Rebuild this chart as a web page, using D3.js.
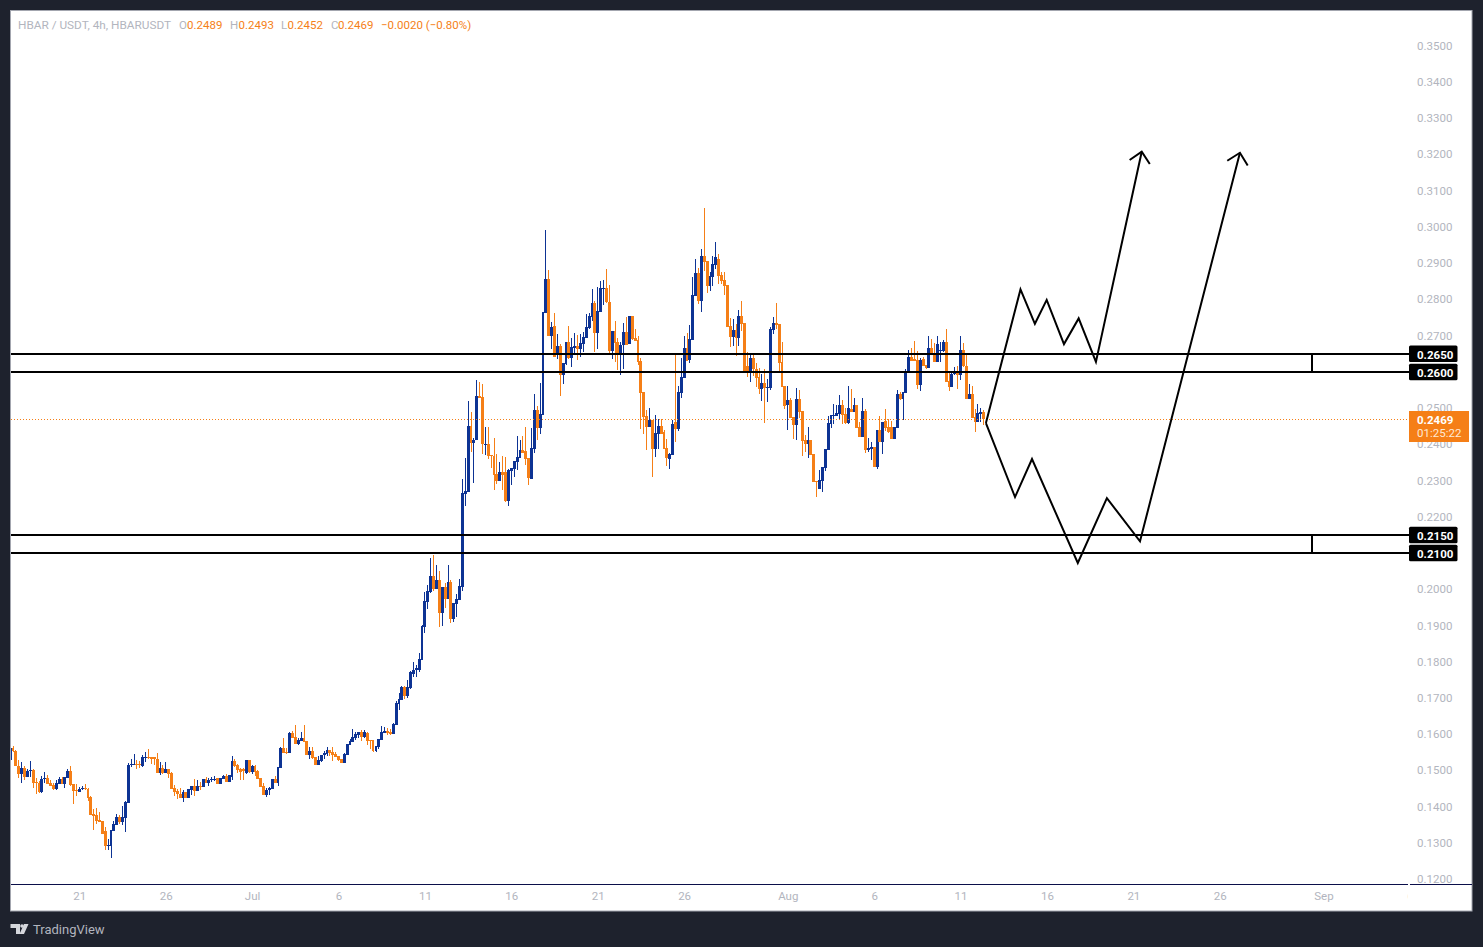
<!DOCTYPE html>
<html>
<head>
<meta charset="utf-8">
<title>HBAR / USDT</title>
<script src="https://cdn.jsdelivr.net/npm/d3@7"></script>
<style>
  html, body { margin: 0; padding: 0; background: #1e222d; }
  svg { display: block; }
  text { font-family: Roboto, "Liberation Sans", sans-serif; }
</style>
</head>
<body>
<div id="chart"></div>
<script>
// 4h candles from 17 Jun 2025, values in ticks of 0.0001
var tick = 0.0001;
var opens = [
1528,1561,1553,1513,1490,1506,1481,1497,1501,1467,
1465,1440,1476,1479,1464,1459,1448,1462,1476,1462,
1480,1498,1462,1445,1440,1448,1451,1448,1426,1378,
1377,1363,1360,1332,1292,1291,1332,1349,1371,1357,
1368,1411,1515,1516,1517,1517,1512,1535,1537,1536,
1536,1531,1493,1506,1493,1504,1493,1451,1443,1435,
1424,1440,1424,1446,1457,1443,1458,1454,1476,1466,
1473,1473,1479,1462,1477,1484,1468,1481,1526,1515,
1504,1503,1493,1528,1495,1512,1498,1479,1457,1432,
1446,1448,1476,1465,1506,1562,1550,1548,1603,1592,
1573,1581,1589,1581,1542,1553,1537,1515,1526,1542,
1545,1556,1550,1545,1539,1531,1520,1542,1570,1578,
1589,1597,1606,1592,1603,1584,1584,1553,1564,1584,
1604,1608,1606,1600,1625,1683,1694,1730,1705,1727,
1766,1778,1778,1804,1895,1964,1992,2036,2000,2025,
1934,2006,1973,2019,1917,1959,1970,2006,2262,2268,
2450,2403,2411,2533,2530,2398,2400,2370,2367,2318,
2298,2323,2323,2243,2326,2331,2351,2362,2384,2381,
2362,2304,2387,2494,2445,2480,2762,2856,2698,2725,
2646,2671,2591,2621,2682,2638,2665,2671,2662,2676,
2693,2720,2751,2789,2707,2765,2830,2831,2792,2657,
2712,2682,2646,2673,2709,2676,2754,2693,2687,2629,
2544,2477,2447,2467,2386,2428,2450,2433,2389,2359,
2370,2461,2442,2541,2582,2665,2632,2687,2809,2872,
2795,2919,2905,2836,2861,2894,2911,2867,2853,2839,
2726,2696,2715,2693,2754,2734,2616,2596,2638,2607,
2585,2552,2569,2555,2555,2715,2734,2731,2627,2560,
2508,2522,2475,2453,2524,2491,2411,2400,2411,2373,
2298,2276,2298,2334,2384,2455,2478,2478,2483,2508,
2483,2458,2497,2489,2508,2447,2420,2491,2384,2386,
2392,2337,2439,2406,2464,2447,2446,2414,2444,2538,
2524,2541,2596,2640,2635,2632,2563,2635,2618,2610,
2665,2651,2627,2657,2657,2682,2574,2558,2593,2599,
2591,2660,2616,2524,2538,2474,2461,2483,2489];
var closes = [
1561,1552,1513,1490,1506,1481,1498,1500,1465,1464,
1440,1476,1478,1462,1457,1448,1465,1476,1462,1481,
1498,1459,1443,1444,1448,1451,1447,1424,1377,1375,
1360,1357,1324,1291,1294,1335,1352,1371,1357,1371,
1412,1515,1517,1517,1516,1516,1537,1537,1533,1531,
1530,1493,1506,1493,1504,1490,1448,1440,1435,1424,
1440,1424,1448,1457,1443,1457,1455,1476,1466,1473,
1475,1476,1462,1479,1484,1468,1487,1526,1512,1501,
1495,1498,1528,1495,1512,1495,1476,1454,1432,1446,
1451,1476,1465,1509,1562,1548,1548,1603,1589,1573,
1584,1589,1578,1542,1553,1534,1515,1528,1542,1548,
1556,1548,1542,1537,1528,1520,1545,1573,1581,1592,
1600,1606,1592,1605,1581,1581,1553,1567,1586,1606,
1608,1602,1600,1628,1686,1696,1730,1705,1730,1771,
1777,1781,1807,1898,1967,1995,2036,2000,2025,1934,
2006,1973,2019,1917,1962,1973,2008,2265,2271,2450,
2403,2411,2533,2527,2400,2400,2367,2367,2315,2298,
2323,2315,2243,2329,2334,2353,2364,2384,2376,2359,
2307,2389,2494,2445,2483,2764,2856,2698,2723,2640,
2671,2591,2624,2682,2638,2668,2671,2662,2679,2696,
2723,2754,2789,2707,2767,2831,2832,2792,2657,2712,
2679,2646,2673,2709,2673,2754,2690,2684,2627,2541,
2475,2447,2467,2386,2431,2450,2428,2386,2362,2373,
2455,2442,2544,2585,2665,2629,2690,2811,2872,2795,
2919,2903,2836,2864,2897,2916,2864,2850,2836,2723,
2696,2715,2693,2754,2731,2599,2596,2638,2607,2582,
2552,2569,2555,2558,2718,2734,2729,2624,2558,2505,
2522,2472,2453,2524,2489,2408,2400,2411,2370,2295,
2295,2301,2337,2386,2458,2480,2480,2486,2508,2480,
2458,2500,2489,2508,2444,2420,2491,2384,2389,2392,
2337,2439,2406,2461,2444,2433,2414,2447,2538,2524,
2544,2599,2640,2629,2629,2563,2632,2616,2610,2665,
2649,2627,2676,2660,2682,2571,2558,2593,2596,2591,
2660,2616,2524,2538,2472,2461,2486,2489,2469];
var highs = [
1570,1567,1556,1528,1523,1512,1504,1526,1503,1479,
1470,1484,1495,1487,1473,1464,1473,1481,1481,1481,
1504,1512,1462,1462,1454,1457,1462,1451,1429,1393,
1396,1385,1360,1343,1310,1335,1360,1379,1377,1401,
1415,1520,1531,1545,1528,1526,1542,1550,1559,1537,
1537,1548,1523,1515,1523,1504,1495,1459,1448,1451,
1446,1440,1448,1457,1476,1473,1468,1476,1481,1479,
1481,1484,1479,1479,1487,1490,1487,1539,1531,1517,
1506,1505,1528,1528,1515,1515,1501,1479,1465,1451,
1454,1476,1484,1509,1564,1589,1562,1606,1608,1625,
1589,1606,1625,1581,1564,1564,1537,1539,1542,1553,
1564,1556,1564,1550,1539,1531,1548,1573,1586,1614,
1606,1606,1611,1610,1606,1584,1584,1567,1586,1622,
1619,1617,1614,1631,1691,1714,1732,1732,1749,1774,
1799,1790,1824,1901,1992,2011,2086,2094,2066,2050,
2006,2017,2066,2025,1962,1986,2028,2304,2362,2519,
2489,2417,2577,2571,2566,2447,2447,2370,2417,2373,
2351,2367,2364,2331,2334,2353,2422,2411,2422,2447,
2362,2445,2538,2505,2569,2764,2991,2880,2737,2762,
2704,2676,2624,2682,2726,2693,2707,2701,2704,2709,
2759,2762,2828,2795,2834,2850,2853,2883,2839,2712,
2740,2693,2682,2734,2751,2754,2754,2718,2698,2638,
2544,2494,2500,2467,2480,2469,2469,2439,2414,2375,
2467,2649,2560,2638,2698,2707,2729,2861,2911,2886,
2938,3052,2905,2875,2919,2958,2925,2875,2875,2839,
2748,2745,2731,2770,2795,2734,2654,2651,2651,2624,
2610,2594,2607,2580,2723,2751,2789,2731,2682,2560,
2560,2527,2475,2555,2549,2491,2425,2447,2411,2373,
2298,2328,2337,2386,2478,2480,2511,2508,2535,2522,
2500,2560,2552,2527,2508,2461,2527,2497,2417,2406,
2392,2439,2478,2461,2497,2469,2464,2447,2549,2544,
2544,2607,2660,2665,2685,2657,2638,2640,2618,2698,
2690,2679,2698,2682,2687,2718,2602,2602,2613,2616,
2698,2679,2649,2566,2560,2497,2511,2500,2493];
var lows = [
1499,1550,1513,1479,1465,1473,1481,1481,1451,1435,
1437,1437,1465,1462,1456,1446,1446,1462,1462,1451,
1480,1457,1407,1429,1440,1446,1446,1415,1377,1335,
1352,1357,1324,1280,1280,1258,1332,1349,1352,1349,
1330,1411,1509,1515,1504,1506,1509,1523,1530,1517,
1515,1493,1487,1490,1493,1479,1448,1429,1421,1424,
1412,1424,1424,1432,1429,1443,1446,1454,1465,1457,
1468,1470,1462,1462,1476,1468,1468,1473,1509,1493,
1473,1474,1490,1493,1490,1484,1476,1454,1432,1426,
1432,1448,1465,1457,1506,1548,1545,1548,1589,1573,
1570,1581,1578,1542,1531,1531,1515,1515,1523,1531,
1539,1539,1526,1537,1526,1520,1520,1542,1570,1578,
1584,1589,1581,1590,1570,1559,1550,1550,1559,1584,
1603,1597,1597,1600,1625,1666,1694,1697,1699,1724,
1757,1757,1771,1804,1879,1945,1989,1995,2000,1895,
1898,1948,1973,1906,1909,1923,1970,1995,2229,2268,
2378,2293,2411,2527,2373,2370,2359,2334,2273,2290,
2298,2273,2240,2229,2287,2309,2329,2362,2376,2342,
2287,2304,2376,2411,2428,2480,2762,2698,2662,2640,
2635,2533,2566,2618,2635,2613,2651,2632,2640,2654,
2693,2718,2740,2654,2662,2765,2784,2789,2649,2635,
2627,2604,2591,2607,2673,2676,2687,2684,2618,2442,
2428,2384,2447,2309,2364,2386,2428,2386,2339,2331,
2370,2406,2436,2527,2582,2629,2624,2687,2809,2787,
2765,2878,2817,2822,2836,2883,2842,2842,2811,2723,
2668,2671,2643,2671,2712,2599,2585,2571,2588,2558,
2538,2519,2458,2516,2549,2704,2718,2599,2558,2497,
2439,2472,2414,2411,2472,2367,2378,2362,2370,2295,
2254,2276,2268,2326,2384,2444,2455,2478,2466,2455,
2455,2455,2489,2489,2444,2420,2420,2375,2378,2356,
2337,2331,2406,2373,2436,2431,2414,2414,2444,2521,
2467,2541,2596,2629,2629,2552,2547,2616,2607,2610,
2649,2627,2627,2627,2654,2571,2547,2558,2591,2552,
2577,2613,2524,2524,2472,2433,2461,2461,2452];

var priceTicks = [0.35,0.34,0.33,0.32,0.31,0.30,0.29,0.28,0.27,0.26,0.25,0.24,0.23,0.22,0.21,0.20,0.19,0.18,0.17,0.16,0.15,0.14,0.13,0.12];
var dateTicks = ["2025-06-21","2025-06-26","2025-07-01","2025-07-06","2025-07-11","2025-07-16","2025-07-21","2025-07-26","2025-08-01","2025-08-06","2025-08-11","2025-08-16","2025-08-21","2025-08-26","2025-09-01","2025-09-06"];
var dateLabels = ["21","26","Jul","6","11","16","21","26","Aug","6","11","16","21","26","Sep","6"];

// drawn levels
var levels = [0.265, 0.26, 0.215, 0.21];
var lastPrice = 0.2469;

// projected paths: bar number after the first candle, and price
var upPathBars = [338.8,350.8,355.8,359.9,365.9,371,377,392.9];
var upPathPrices = [0.2458,0.2827,0.2732,0.2798,0.2676,0.2747,0.2627,0.3207];
var upHeadBars = [388.7,392.9,395.7];
var upHeadPrices = [0.3184,0.3207,0.3173];
var downPathBars = [338.8,348.9,354.8,370.7,380.8,392.3,427];
var downPathPrices = [0.2458,0.2254,0.2359,0.2072,0.2251,0.2132,0.3204];
var downHeadBars = [422.6,427,429.7];
var downHeadPrices = [0.3182,0.3204,0.3169];

var w = 1483, h = 947;
var blue = "#0d3394", orange = "#f57f17", tagGray = "#b2b5be";

var svg = d3.select("#chart").append("svg").attr("width", w).attr("height", h);

// panel
svg.append("rect").attr("x", 10.5).attr("y", 10.5).attr("width", 1461.5).attr("height", 900.5)
    .attr("fill", "#fff").attr("stroke", "#a3a6af").attr("stroke-width", 1);

svg.append("clipPath").attr("id", "plot").append("rect").attr("x", 11).attr("y", 11).attr("width", 1398).attr("height", 873);
svg.append("clipPath").attr("id", "timeaxis").append("rect").attr("x", 11).attr("y", 885).attr("width", 1397).attr("height", 26);

var x = d3.scaleUtc()
    .domain([Date.UTC(2025, 5, 21), Date.UTC(2025, 8, 1)])
    .range([79.3, 1323.46]);
var y = d3.scaleLinear().domain([0.12, 0.35]).range([879, 45.5]);

var firstBar = Date.UTC(2025, 5, 17), barMs = 4 * 3600 * 1000;
function barX(n) { return x(new Date(firstBar + n * barMs)); }

// price axis
var yAxis = d3.axisRight(y).tickValues(priceTicks).tickFormat(d3.format(".4f")).tickSize(0).tickPadding(0);
var yg = svg.append("g").attr("transform", "translate(1417,0)").call(yAxis);
yg.select(".domain").remove();
yg.selectAll("text").attr("font-size", 11.5).attr("fill", tagGray).style("font-family", "Roboto");

// time axis, the last label is cut off by the price scale
var xAxis = d3.axisBottom(x)
    .tickValues(dateTicks.map(function(d) { return new Date(d + "T00:00:00Z"); }))
    .tickFormat(function(d, i) { return dateLabels[i]; })
    .tickSize(0).tickPadding(0);
var xg = svg.append("g").attr("clip-path", "url(#timeaxis)")
    .append("g").attr("transform", "translate(0,892)").call(xAxis);
xg.select(".domain").remove();
xg.selectAll("text").attr("font-size", 11.5).attr("fill", tagGray).style("font-family", "Roboto");

// bottom rule, broken at the price scale
svg.append("line").attr("x1", 11).attr("x2", 1408).attr("y1", 884.5).attr("y2", 884.5).attr("stroke", "#0b0f4a");
svg.append("line").attr("x1", 1410).attr("x2", 1472).attr("y1", 884.5).attr("y2", 884.5).attr("stroke", "#0b0f4a");

// candles
var candles = closes.map(function(c, i) {
    return { n: i, o: opens[i] * tick, h: highs[i] * tick, l: lows[i] * tick, c: c * tick };
});
function bodyLeft(d) { return Math.round(barX(d.n) - 1.44); }
function bodyWidth(d) { return Math.round(barX(d.n) + 1.44) - bodyLeft(d); }
var plot = svg.append("g").attr("clip-path", "url(#plot)").attr("shape-rendering", "crispEdges");
plot.selectAll("rect.wick").data(candles).enter().append("rect")
    .attr("class", "wick")
    .attr("x", function(d) { return bodyLeft(d) + Math.floor(bodyWidth(d) / 2); })
    .attr("width", 1)
    .attr("y", function(d) { return Math.round(y(d.h)); })
    .attr("height", function(d) { return Math.max(1, Math.round(y(d.l)) - Math.round(y(d.h))); })
    .attr("fill", function(d) { return d.c >= d.o ? blue : orange; });
plot.selectAll("rect.body").data(candles).enter().append("rect")
    .attr("class", "body")
    .attr("x", bodyLeft)
    .attr("width", bodyWidth)
    .attr("y", function(d) { return Math.round(y(Math.max(d.o, d.c))); })
    .attr("height", function(d) { return Math.max(1, Math.round(y(Math.min(d.o, d.c))) - Math.round(y(Math.max(d.o, d.c)))); })
    .attr("fill", function(d) { return d.c >= d.o ? blue : orange; });

// last price dotted line
svg.append("line").attr("x1", 11).attr("x2", 1409).attr("y1", Math.round(y(lastPrice)) + 0.5).attr("y2", Math.round(y(lastPrice)) + 0.5)
    .attr("stroke", orange).attr("stroke-dasharray", "1 2");

// levels and the two range brackets
var levelG = svg.append("g");
levelG.selectAll("line").data(levels).enter().append("line")
    .attr("x1", 11).attr("x2", 1409)
    .attr("y1", function(d) { return Math.round(y(d)); })
    .attr("y2", function(d) { return Math.round(y(d)); })
    .attr("stroke", "#000").attr("stroke-width", 2);
[[levels[0], levels[1]], [levels[2], levels[3]]].forEach(function(p) {
    levelG.append("line").attr("x1", 1312).attr("x2", 1312)
        .attr("y1", Math.round(y(p[0]))).attr("y2", Math.round(y(p[1])))
        .attr("stroke", "#000").attr("stroke-width", 2);
});

var tags = svg.selectAll("g.tag").data(levels).enter().append("g").attr("class", "tag");
tags.append("rect").attr("x", 1409).attr("width", 48.5).attr("height", 16.5).attr("rx", 1.5)
    .attr("y", function(d) { return y(d) - 8; }).attr("fill", "#000");
tags.append("text").attr("x", 1417).attr("y", function(d) { return y(d) + 5; })
    .attr("font-size", 11.5).attr("font-weight", 700).attr("fill", "#fff")
    .text(function(d) { return d3.format(".4f")(d); });

// last price tag
svg.append("rect").attr("x", 1409).attr("y", 411).attr("width", 60).attr("height", 31).attr("fill", orange);
svg.append("text").attr("x", 1417).attr("y", 424).attr("font-size", 11.5).attr("font-weight", 700).attr("fill", "#fff").text(d3.format(".4f")(lastPrice));
svg.append("text").attr("x", 1417).attr("y", 437).attr("font-size", 11.5).attr("fill", "#ffe9d4").text("01:25:22");

// projected paths
var pathLine = d3.line().x(function(d) { return barX(d[0]); }).y(function(d) { return y(d[1]); });
[[upPathBars, upPathPrices], [upHeadBars, upHeadPrices], [downPathBars, downPathPrices], [downHeadBars, downHeadPrices]].forEach(function(s) {
    svg.append("path").attr("d", pathLine(d3.zip(s[0], s[1])))
        .attr("fill", "none").attr("stroke", "#000").attr("stroke-width", 2).attr("stroke-linejoin", "miter");
});

// legend
var legend = [
    { x: 18, c: tagGray, s: 11.8, t: "HBAR / USDT, 4h, HBARUSDT" },
    { x: 179, c: tagGray, s: 11.5, t: "O" }, { x: 187, c: orange, s: 11.5, t: "0.2489" },
    { x: 230, c: tagGray, s: 11.5, t: "H" }, { x: 238.5, c: orange, s: 11.5, t: "0.2493" },
    { x: 281, c: tagGray, s: 11.5, t: "L" }, { x: 287.5, c: orange, s: 11.5, t: "0.2452" },
    { x: 331, c: tagGray, s: 11.5, t: "C" }, { x: 338, c: orange, s: 11.5, t: "0.2469" },
    { x: 381, c: orange, s: 11.5, t: "\u22120.0020 (\u22120.80%)" }
];
svg.selectAll("text.legend").data(legend).enter().append("text").attr("class", "legend")
    .attr("x", function(d) { return d.x; }).attr("y", 29)
    .attr("font-size", function(d) { return d.s; }).attr("fill", function(d) { return d.c; })
    .text(function(d) { return d.t; });

// TradingView mark
svg.append("path").attr("fill", "#d5d7dc")
    .attr("d", "M10.5 924H20V934H16V928H10.5Z M24 924H28.5L24 934H19.5Z");
svg.append("circle").attr("cx", 22).attr("cy", 926).attr("r", 1.8).attr("fill", "#d5d7dc");
svg.append("text").attr("x", 33).attr("y", 934).attr("font-size", 13).attr("fill", "#b2b5be").text("TradingView");
</script>
</body>
</html>
